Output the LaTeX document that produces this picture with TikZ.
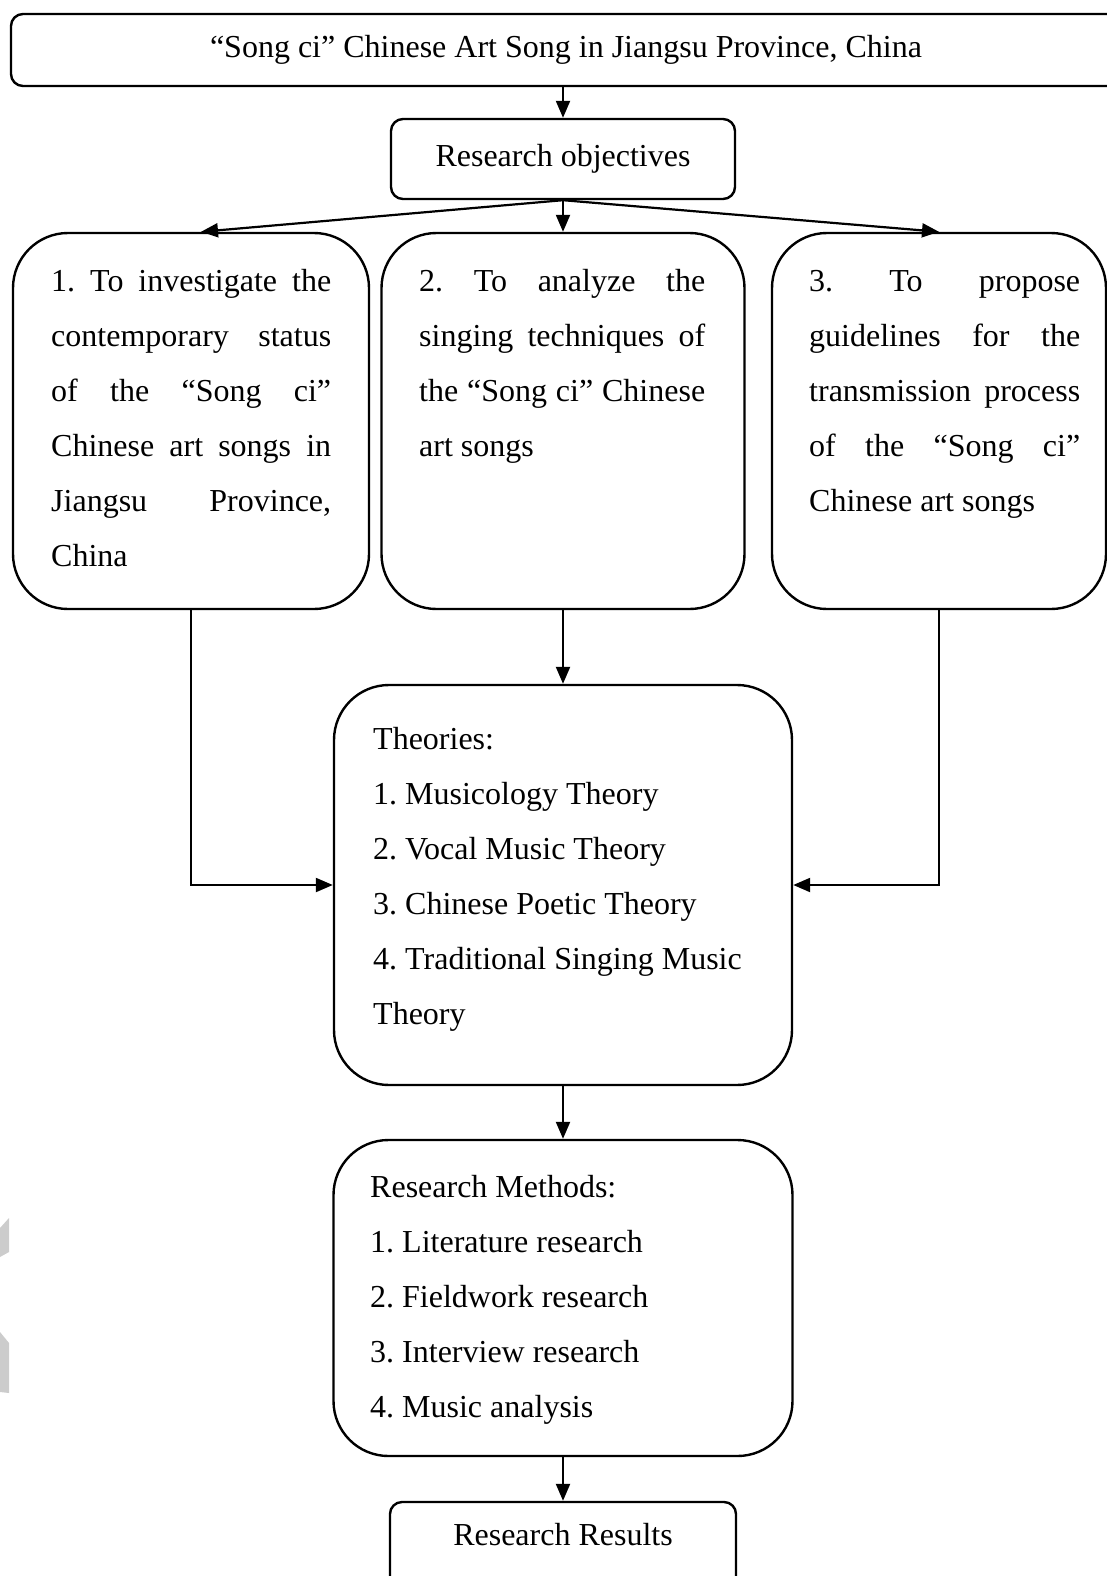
\documentclass[tikz,border=0pt]{standalone}
\usepackage{fontspec}
\setmainfont{Liberation Serif}
\usetikzlibrary{arrows.meta}
\frenchspacing
\newcommand{\spreadline}[2]{\makebox[#1][s]{#2}}

\begin{document}
\begin{tikzpicture}[x=1pt, y=-1pt, font=\fontsize{32}{55}\selectfont]
    % Define styles
    \tikzset{
        smallbox/.style={rectangle, draw, line width=2.4pt, rounded corners=12pt},
        bigbox/.style={rectangle, draw, line width=2.4pt, rounded corners=55pt},
        lines/.style={anchor=base west, align=left, inner sep=0pt},
        arrow/.style={-{Triangle[length=17pt, width=14pt]}, line width=2.2pt},
    }
    \useasboundingbox (0,0) rectangle (1107,1576);
    \clip (0,0) rectangle (1107,1576);

    % Watermark edge
    \fill[black!20] (0,1228) -- (9,1218) -- (9,1252) -- (0,1257) -- cycle;
    \fill[black!20] (0,1332) -- (9,1343) -- (9,1393) -- (0,1392) -- cycle;

    % Title and objectives
    \node[smallbox, minimum width=1110pt, minimum height=72pt] (title) at (566,50) {“Song ci” Chinese Art Song in Jiangsu Province, China};
    \node[smallbox, minimum width=344pt, minimum height=80pt] (objectives) at (563,159) {Research objectives};

    % Three objectives (text placed by its last baseline)
    \node[bigbox, minimum width=356pt, minimum height=376pt] (obj1) at (191,421) {};
    \node[bigbox, minimum width=363pt, minimum height=376pt] (obj2) at (563,421) {};
    \node[bigbox, minimum width=334pt, minimum height=376pt] (obj3) at (939,421) {};

    \node[lines] (obj1text) at (51,566) {
        \spreadline{280pt}{1. To investigate the}\\
        \spreadline{280pt}{contemporary status}\\
        \spreadline{280pt}{of the “Song ci”}\\
        \spreadline{280pt}{Chinese art songs in}\\
        \spreadline{280pt}{Jiangsu Province,}\\
        China
    };
    \node[lines] (obj2text) at (419,456) {
        \spreadline{286pt}{2. To analyze the}\\
        \spreadline{286pt}{singing techniques of}\\
        \spreadline{286pt}{the “Song ci” Chinese}\\
        art songs
    };
    \node[lines] (obj3text) at (809,511) {
        \spreadline{271pt}{3. To propose}\\
        \spreadline{271pt}{guidelines for the}\\
        \spreadline{271pt}{transmission process}\\
        \spreadline{271pt}{of the “Song ci”}\\
        Chinese art songs
    };

    % Theories
    \node[bigbox, minimum width=458pt, minimum height=400pt] (theory) at (563,885) {};
    \node[lines] (theorytext) at (373,1024) {
        Theories:\\
        1. Musicology Theory\\
        2. Vocal Music Theory\\
        3. Chinese Poetic Theory\\
        4. Traditional Singing Music\\
        Theory
    };

    % Methods and results
    \node[bigbox, minimum width=459pt, minimum height=316pt] (methods) at (563,1298) {};
    \node[lines] (methodstext) at (370,1417) {
        Research Methods:\\
        1. Literature research\\
        2. Fieldwork research\\
        3. Interview research\\
        4. Music analysis
    };
    \node[smallbox, minimum width=346pt, minimum height=98pt] (results) at (563,1551) {};
    \node[anchor=base] (resultstext) at (563,1545) {Research Results};

    % Connectors
    \draw[arrow] (objectives |- title.south) -- (objectives.north);
    \draw[arrow] (objectives.south) -- ([xshift=10pt]obj1.north);
    \draw[arrow] (objectives.south) -- (obj2.north);
    \draw[arrow] (objectives.south) -- (obj3.north);
    \draw[arrow] (obj2.south) -- (theory.north);
    \draw[arrow] (obj1.south) |- (theory.west);
    \draw[arrow] (obj3.south) |- (theory.east);
    \draw[arrow] (theory.south) -- (methods.north);
    \draw[arrow] (methods.south) -- (results.north);
\end{tikzpicture}
\end{document}
